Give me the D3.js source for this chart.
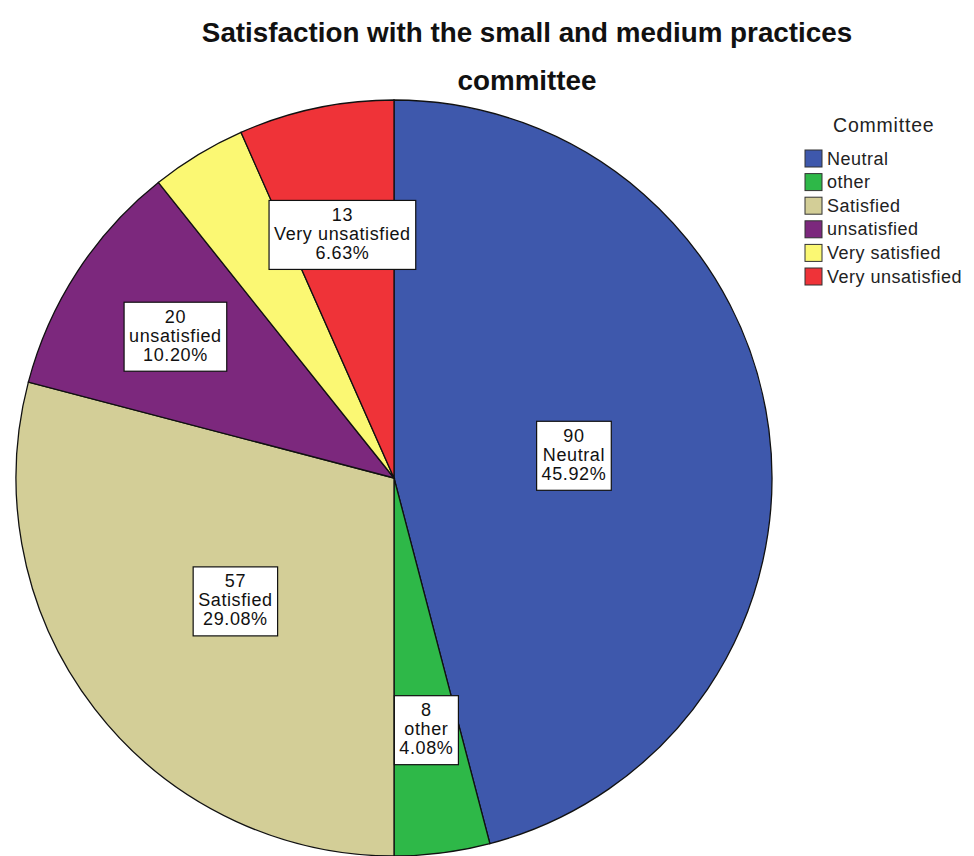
<!DOCTYPE html>
<html>
<head>
<meta charset="utf-8">
<script src="https://cdn.jsdelivr.net/npm/d3@7"></script>
<style>
  html, body { margin: 0; padding: 0; background: #fff; }
  svg { display: block; }
</style>
</head>
<body>
<svg id="chart" width="974" height="856"></svg>
<script>
// ---- data ----
const categories = ["Neutral", "other", "Satisfied", "unsatisfied", "Very satisfied", "Very unsatisfied"];
const counts = [90, 8, 57, 20, 8, 13];
const percentLabels = ["45.92%", "4.08%", "29.08%", "10.20%", "4.08%", "6.63%"];
const showLabel = [true, true, true, true, false, true];
const colors = ["#3E58AC", "#2EB848", "#D3CE97", "#7C287D", "#FBF873", "#EF3338"];
const titleLines = ["Satisfaction with the small and medium practices", "committee"];
const legendTitle = "Committee";

// ---- layout ----
const labelRadiusFactor = [0.48, 0.67, 0.53, 0.69, 0.6, 0.66];
const W = 974, H = 856;
const cx = 394, cy = 478, R = 378;

const svg = d3.select("#chart");
const font = "'Liberation Sans', Arial, sans-serif";

// title
svg.selectAll("text.title").data(titleLines).enter().append("text")
  .attr("class", "title")
  .attr("x", 527)
  .attr("y", (d, i) => 42 + i * 48)
  .attr("text-anchor", "middle")
  .style("font-family", font)
  .style("font-weight", "bold")
  .style("font-size", "27.8px")
  .style("fill", "#111")
  .text(d => d);

// pie
const data = categories.map((c, i) => ({ cat: c, value: counts[i], pct: percentLabels[i], color: colors[i], show: showLabel[i], lr: labelRadiusFactor[i] }));
const pie = d3.pie().value(d => d.value).sort(null);
const arcs = pie(data);
const arc = d3.arc().innerRadius(0).outerRadius(R);

const g = svg.append("g").attr("transform", `translate(${cx},${cy})`);
g.selectAll("path").data(arcs).enter().append("path")
  .attr("d", arc)
  .attr("fill", d => d.data.color)
  .attr("stroke", "#111")
  .attr("stroke-width", 1.3);

// labels
const lineH = 19;
arcs.filter(d => d.data.show).forEach(d => {
  const la = d3.arc().innerRadius(R * d.data.lr).outerRadius(R * d.data.lr);
  const [lx, ly] = la.centroid(d);
  const lg = g.append("g").attr("transform", `translate(${lx},${ly})`);
  const lines = [String(d.data.value), d.data.cat, d.data.pct];
  const t = lg.append("text")
    .attr("text-anchor", "middle")
    .style("font-family", font)
    .style("font-size", "18px")
    .style("letter-spacing", "0.6px")
    .style("fill", "#111");
  lines.forEach((s, i) => {
    t.append("tspan").attr("x", 0).attr("y", (i - 1) * lineH + 6).text(s);
  });
  const bb = t.node().getBBox();
  lg.insert("rect", "text")
    .attr("x", bb.x - 5)
    .attr("y", -lineH * 1.5 - 5)
    .attr("width", bb.width + 10)
    .attr("height", lineH * 3 + 12)
    .attr("fill", "#fff")
    .attr("stroke", "#111")
    .attr("stroke-width", 1.2);
});

// legend
svg.append("text")
  .attr("x", 833).attr("y", 132)
  .style("font-family", font)
  .style("font-size", "19.5px")
  .style("letter-spacing", "0.8px")
  .style("fill", "#222")
  .text(legendTitle);

const leg = svg.append("g").attr("transform", "translate(805,150)");
const rowH = 23.6;
const items = leg.selectAll("g").data(data).enter().append("g")
  .attr("transform", (d, i) => `translate(0,${i * rowH})`);
items.append("rect")
  .attr("width", 17).attr("height", 17)
  .attr("fill", d => d.color)
  .attr("stroke", "#333").attr("stroke-width", 1);
items.append("text")
  .attr("x", 22).attr("y", 14.5)
  .style("font-family", font)
  .style("font-size", "18px")
  .style("letter-spacing", "0.5px")
  .style("fill", "#222")
  .text(d => d.cat);
</script>
</body>
</html>
